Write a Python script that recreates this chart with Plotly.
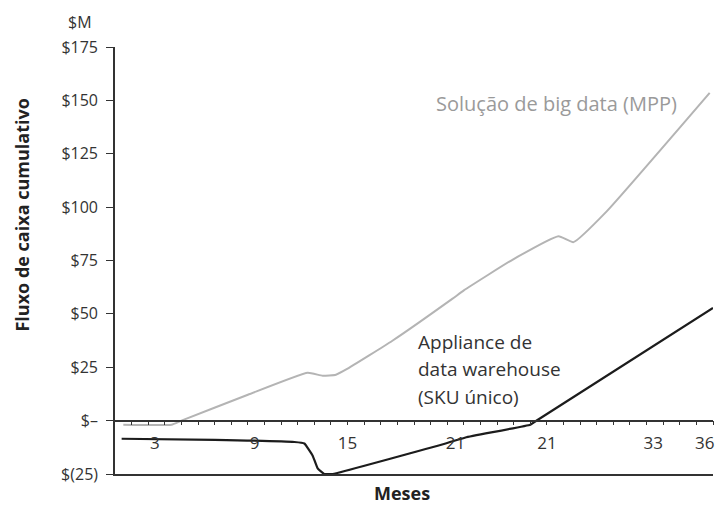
import plotly.graph_objects as go

# Gray series: "Solução de big data (MPP)"
mpp_months = [0.5, 3.4, 4.0, 8.0, 11.6, 12.5, 13.3, 14.0, 16.7, 20.3, 21.0, 24.0, 26.7, 27.6, 29.6, 35.8]
mpp_values = [-1.9, -1.9, 0.0, 12.1, 22.4, 21.0, 21.5, 24.3, 37.4, 57.0, 61.0, 75.7, 86.4, 83.6, 98.0, 153.5]

# Black series: "Appliance de data warehouse (SKU único)"
dw_months = [0.4, 6.0, 10.8, 11.4, 11.9, 12.2, 12.6, 13.1, 19.9, 21.1, 25.0, 25.2, 36.0]
dw_values = [-8.5, -9.0, -10.0, -10.7, -16.4, -22.4, -25.0, -25.0, -10.7, -7.9, -1.9, -0.9, 52.8]

# Axis ticks
y_tickvals = [-25, 0, 25, 50, 75, 100, 125, 150, 175]
y_ticktext = ["$(25)", "$\u2013", "$25", "$50", "$75", "$100", "$125", "$150", "$175"]
x_label_pos = [2.4, 8.4, 14.0, 20.5, 26.0, 32.4, 35.5]
x_label_text = ["3", "9", "15", "21", "21", "33", "36"]
month_ticks = list(range(1, 37))

FONT = "Open Sans"
AX = "#333333"

fig = go.Figure()
fig.add_trace(go.Scatter(x=mpp_months, y=mpp_values, mode="lines",
                         line=dict(color="#b4b4b4", width=2, shape="spline", smoothing=0.4),
                         xaxis="x2", hoverinfo="skip", showlegend=False))
fig.add_trace(go.Scatter(x=dw_months, y=dw_values, mode="lines",
                         line=dict(color="#1c1c1c", width=2.2, shape="spline", smoothing=0.3),
                         hoverinfo="skip", showlegend=False))

fig.update_layout(
    width=710, height=499,
    margin=dict(l=107, r=5, t=39, b=33, autoexpand=False),
    paper_bgcolor="white", plot_bgcolor="white",
    font=dict(family=FONT, color=AX, size=16),
    xaxis=dict(range=[0, 36], showline=True, linecolor=AX, linewidth=1.6,
               showgrid=False, zeroline=False, automargin=False,
               tickvals=x_label_pos, ticktext=x_label_text, ticks="",
               ticklabelposition="inside", ticklabelstandoff=22,
               ticklabeloverflow="allow",
               tickfont=dict(size=17, family=FONT, color=AX)),
    xaxis2=dict(range=[0, 36], overlaying="x", anchor="free", position=0.125,
                side="bottom", showline=True, linecolor=AX, linewidth=1.6,
                showgrid=False, zeroline=False, ticks="outside", ticklen=4,
                tickwidth=1.4, tickcolor=AX, tickvals=month_ticks,
                showticklabels=False, automargin=False),
    yaxis=dict(range=[-25, 175], showline=True, linecolor=AX, linewidth=1.6,
               showgrid=False, zeroline=False, ticks="outside", ticklen=7,
               tickwidth=1.4, tickcolor=AX, tickvals=y_tickvals, ticktext=y_ticktext,
               ticklabelstandoff=5, automargin=False,
               tickfont=dict(size=16, family=FONT, color=AX)),
)

ann = [
    dict(text="$M", xref="paper", yref="paper", x=-0.0585, y=1.0585,
         xanchor="center", yanchor="middle", showarrow=False,
         font=dict(size=16, color=AX)),
    dict(text="<b>Fluxo de caixa cumulativo</b>", xref="paper", yref="paper",
         x=-0.156, y=0.607, xanchor="center", yanchor="middle", textangle=-90,
         showarrow=False, font=dict(size=18, color="#222")),
    dict(text="<b>Meses</b>", xref="paper", yref="paper", x=0.48, y=-0.0445,
         xanchor="center", yanchor="middle", showarrow=False,
         font=dict(size=18, color="#222")),
    dict(text="Solução de big data (MPP)", x=26.6, y=148.5, xanchor="center",
         yanchor="middle", showarrow=False, font=dict(size=20, color="#9a9a9a")),
    dict(text="Appliance de", x=18.1, y=36.8, xanchor="left", yanchor="middle",
         showarrow=False, font=dict(size=19, color=AX)),
    dict(text="data warehouse", x=18.1, y=24.0, xanchor="left", yanchor="middle",
         showarrow=False, font=dict(size=19, color=AX)),
    dict(text="(SKU único)", x=18.1, y=11.3, xanchor="left", yanchor="middle",
         showarrow=False, font=dict(size=19, color=AX)),
]
fig.update_layout(annotations=ann)

fig.write_html("out.html")
